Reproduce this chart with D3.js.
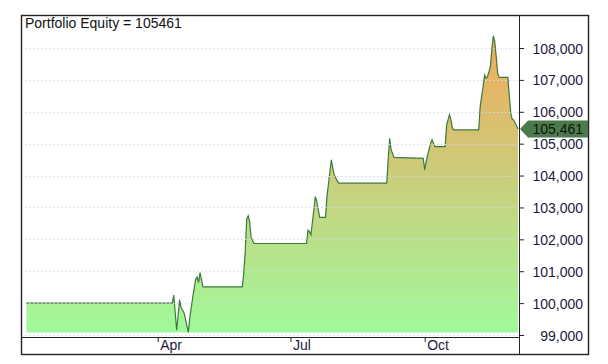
<!DOCTYPE html>
<html>
<head>
<meta charset="utf-8">
<script src="https://cdn.jsdelivr.net/npm/d3@7"></script>
<style>
  body { margin: 0; background: #fff; }
  svg { font-family: "Liberation Sans", Arial, sans-serif; }
  .axis path { display: none; }
  .axis line { stroke: #222; }
  .axis text { fill: #1c1c3c; font-size: 14px; }
</style>
</head>
<body>
<div id="chart"></div>
<script>
// equity curve
const dates = [
  "2019-01-01","2019-04-11","2019-04-12","2019-04-14","2019-04-16","2019-04-17","2019-04-19",
  "2019-04-22","2019-04-23","2019-04-25","2019-04-27","2019-04-28","2019-04-29","2019-04-30",
  "2019-05-02","2019-05-29","2019-05-30","2019-05-31","2019-06-01","2019-06-02","2019-06-03",
  "2019-06-04","2019-06-06","2019-07-12","2019-07-13","2019-07-14","2019-07-15","2019-07-17",
  "2019-07-18","2019-07-19","2019-07-21","2019-07-25","2019-07-26","2019-07-28","2019-07-29",
  "2019-07-30","2019-07-31","2019-08-02","2019-08-03","2019-09-05","2019-09-06","2019-09-07",
  "2019-09-08","2019-09-10","2019-09-30","2019-10-01","2019-10-02","2019-10-03","2019-10-05",
  "2019-10-06","2019-10-07","2019-10-08","2019-10-15","2019-10-16","2019-10-18","2019-10-19",
  "2019-10-20","2019-10-21","2019-11-07","2019-11-08","2019-11-10","2019-11-11","2019-11-12",
  "2019-11-13","2019-11-15","2019-11-16","2019-11-17","2019-11-18","2019-11-19","2019-11-20",
  "2019-11-21","2019-11-27","2019-11-28","2019-11-29","2019-11-30","2019-12-01","2019-12-02",
  "2019-12-04"
];
const equity = [
  100000,100000,100250,99150,100100,99860,99700,
  99080,99550,100180,100750,100820,100640,100960,
  100510,100510,100960,101640,102640,102740,102550,
  102060,101870,101870,102290,102240,102140,102920,
  103340,103190,102690,102690,103340,104120,104490,
  104230,104020,103840,103760,103760,104540,105170,
  104800,104570,104540,104180,104440,104650,105010,
  105120,105010,104910,104910,105590,105910,105740,
  105480,105430,105430,106160,106790,107150,107050,
  107100,107410,107940,108380,108200,107730,107210,
  107080,107080,106470,105950,105760,105740,105640,
  105461
];
const yTicks = [99000,100000,101000,102000,103000,104000,105000,106000,107000,108000];
const xTicks = ["2019-04-01","2019-07-01","2019-10-01"];
const lastValue = 105461;

const width = 608, height = 364;
const frame = { left: 21, top: 15, right: 588, bottom: 354 };
const plotRight = 519, plotBottom = 337;

const parse = d3.timeParse("%Y-%m-%d");
const data = dates.map((d, i) => ({ date: parse(d), value: equity[i] }));

const x = d3.scaleTime()
  .domain([parse("2019-01-01"), parse("2019-12-04")])
  .range([26.4, 518.1]);
const y = d3.scaleLinear()
  .domain([99000, 108000])
  .range([335, 48]);

const svg = d3.select("#chart").append("svg")
  .attr("width", width)
  .attr("height", height);

// gradient fill, green at the bottom to orange at the top
const grad = svg.append("defs").append("linearGradient")
  .attr("id", "eqGrad")
  .attr("gradientUnits", "userSpaceOnUse")
  .attr("x1", 0).attr("x2", 0)
  .attr("y1", y(99000)).attr("y2", y(108400));
grad.append("stop").attr("offset", "0%").attr("stop-color", "#a0fa9c");
grad.append("stop").attr("offset", "55%").attr("stop-color", "#cccc7a");
grad.append("stop").attr("offset", "100%").attr("stop-color", "#f2aa5a");

const base = d3.min(equity);

svg.append("path")
  .datum(data)
  .attr("fill", "url(#eqGrad)")
  .attr("d", d3.area()
    .x(d => x(d.date))
    .y0(y(base))
    .y1(d => y(d.value)));

svg.append("path")
  .datum(data)
  .attr("fill", "none")
  .attr("stroke", "#3b7a3b")
  .attr("stroke-width", 1.2)
  .attr("d", d3.line()
    .x(d => x(d.date))
    .y(d => y(d.value)));

// dotted grid on top
svg.append("g")
  .selectAll("line")
  .data(yTicks)
  .join("line")
  .attr("x1", frame.left)
  .attr("x2", plotRight)
  .attr("y1", d => Math.round(y(d)) + 0.5)
  .attr("y2", d => Math.round(y(d)) + 0.5)
  .attr("stroke", "#d6d6ee")
  .attr("stroke-dasharray", "1.5,2.5");

// right axis
const yAxis = svg.append("g")
  .attr("class", "axis")
  .attr("transform", `translate(${plotRight},0)`)
  .call(d3.axisRight(y).tickValues(yTicks).tickSize(5).tickFormat(d3.format(",")));
yAxis.selectAll("text")
  .attr("x", 64)
  .attr("text-anchor", "end")
  .attr("dy", "0.36em");

// bottom axis
const xAxis = svg.append("g")
  .attr("class", "axis")
  .attr("transform", `translate(0,${plotBottom})`)
  .call(d3.axisBottom(x).tickValues(xTicks.map(parse)).tickSize(5).tickFormat(d3.timeFormat("%b")));
xAxis.selectAll("text")
  .attr("x", 2)
  .attr("y", 13)
  .attr("dy", "0")
  .attr("text-anchor", "start");

// frame lines
const frameG = svg.append("g").attr("stroke", "#222").attr("fill", "none");
frameG.append("rect")
  .attr("x", frame.left + 0.5).attr("y", frame.top + 0.5)
  .attr("width", frame.right - frame.left).attr("height", frame.bottom - frame.top)
  .attr("stroke-width", 1.4);
frameG.append("line")
  .attr("x1", plotRight + 0.5).attr("x2", plotRight + 0.5)
  .attr("y1", frame.top).attr("y2", frame.bottom);
frameG.append("line")
  .attr("x1", frame.left).attr("x2", plotRight)
  .attr("y1", plotBottom + 0.5).attr("y2", plotBottom + 0.5);

// last value tag
const ty = y(lastValue);
svg.append("path")
  .attr("fill", "#4b7b4b")
  .attr("d", `M${plotRight + 1},${ty} L${plotRight + 9},${ty - 8.5} L${frame.right},${ty - 8.5} L${frame.right},${ty + 8.5} L${plotRight + 9},${ty + 8.5} Z`);
svg.append("text")
  .attr("x", 583)
  .attr("y", ty)
  .attr("dy", "0.36em")
  .attr("text-anchor", "end")
  .attr("fill", "#111")
  .style("font-size", "14px")
  .text(d3.format(",")(lastValue));

// title
svg.append("text")
  .attr("x", 25)
  .attr("y", 28)
  .attr("fill", "#111")
  .style("font-size", "14px")
  .text("Portfolio Equity = " + lastValue);
</script>
</body>
</html>
